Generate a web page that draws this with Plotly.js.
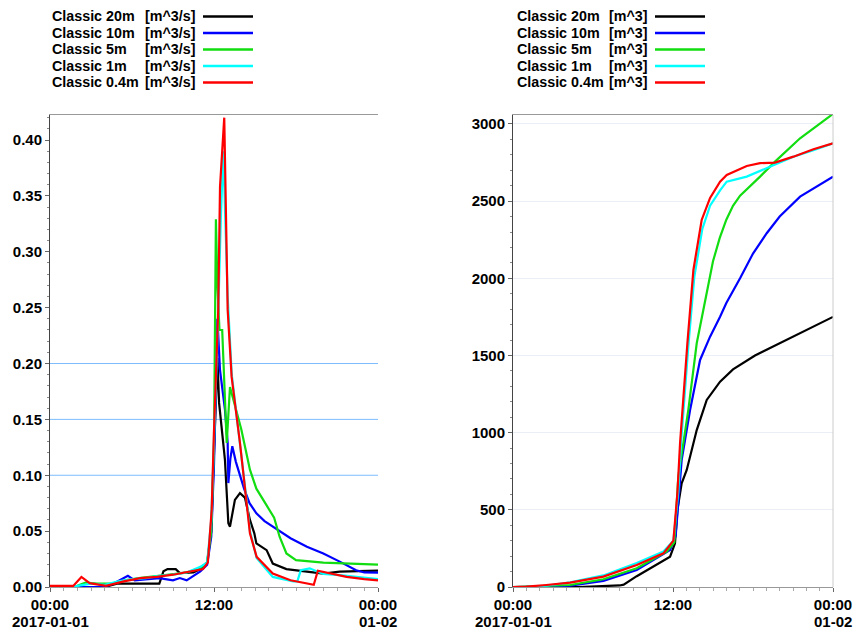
<!DOCTYPE html>
<html>
<head>
<meta charset="utf-8">
<script src="https://cdn.plot.ly/plotly-3.0.1.min.js"></script>
<style>
html,body{margin:0;padding:0;background:#fff;}
#chart{width:857px;height:633px;}
</style>
</head>
<body>
<div id="chart"></div>
<script>
// ---------------- Data (hours since 2017-01-01 00:00) ----------------
// Left: discharge [m^3/s]
const tQ20 = [0,4,4.9,8.0,8.3,8.6,9.2,9.5,10.5,11.0,11.5,11.8,12.0,12.15,12.25,12.37,12.56,12.8,13.05,13.17,13.53,13.9,14.26,14.63,14.95,15.1,15.85,16.3,17.3,18.8,20.0,21.2,22.5,24];
const q20  = [0,0,0.003,0.003,0.014,0.016,0.016,0.0125,0.013,0.016,0.022,0.05,0.12,0.18,0.205,0.165,0.144,0.114,0.057,0.054,0.078,0.084,0.080,0.060,0.048,0.039,0.033,0.021,0.016,0.0137,0.012,0.0137,0.014,0.0146];

const tQ10 = [0,4,4.8,5.7,6.2,7,8,9,9.5,10,10.5,11,11.5,11.8,12.0,12.15,12.25,12.44,12.8,13.0,13.05,13.2,13.34,13.6,13.9,14.2,14.6,15.1,15.7,16.3,17.6,18.8,20.0,21.2,22.4,23.0,24];
const q10  = [0,0,0.004,0.01,0.006,0.007,0.008,0.006,0.008,0.006,0.01,0.014,0.02,0.045,0.11,0.2,0.24,0.194,0.159,0.129,0.093,0.115,0.126,0.112,0.099,0.088,0.075,0.066,0.059,0.054,0.0436,0.036,0.030,0.0227,0.015,0.013,0.0128];

const tQ5 = [0,2,2.6,3.5,4.5,5.5,6.5,8,9,10,11,11.5,11.8,12.0,12.05,12.14,12.25,12.4,12.6,12.93,13.17,13.48,14.0,14.63,15.1,15.85,16.4,16.8,17.3,18.0,20.0,22,24];
const q5  = [0,0.001,0.004,0.003,0.003,0.006,0.008,0.01,0.012,0.013,0.017,0.022,0.05,0.13,0.2,0.329,0.27,0.23,0.23,0.129,0.179,0.165,0.141,0.105,0.088,0.073,0.062,0.045,0.030,0.024,0.0218,0.021,0.020];

const tQ1 = [0,2,3,4,5,6,7,8,9,10,11,11.5,11.8,12.0,12.3,12.5,12.68,12.8,13.0,13.3,13.9,14.46,14.63,15.12,16.3,17.0,17.8,18.1,18.35,19.0,20.0,21.2,22.5,24];
const q1  = [0,0.001,0.003,0.002,0.005,0.007,0.008,0.01,0.011,0.013,0.018,0.022,0.06,0.13,0.24,0.33,0.39,0.34,0.26,0.19,0.13,0.07,0.05,0.026,0.009,0.007,0.005,0.005,0.015,0.0167,0.0117,0.0107,0.009,0.007];

const tQ04 = [0,1.7,2.3,2.9,4.1,5.4,6.6,7.8,9.0,10.24,11.2,11.55,11.83,12.0,12.31,12.44,12.75,13.0,13.29,13.9,14.46,14.63,15.12,16.3,17.6,19.3,19.6,20.5,21.7,23.0,24];
const q04  = [0.001,0.001,0.009,0.0035,0.001,0.005,0.008,0.009,0.011,0.0137,0.016,0.022,0.069,0.14,0.248,0.358,0.42,0.248,0.188,0.129,0.069,0.048,0.027,0.012,0.006,0.002,0.0146,0.012,0.009,0.007,0.006];

// Right: cumulative volume [m^3]
const tV20 = [0,4.9,8.0,8.3,9.28,10.53,11.78,12.15,12.33,12.65,13.03,13.78,14.53,15.53,16.5,18.15,20.0,21.5,23,24];
const v20  = [0,0,10,15,70,131,196,283,499,672,758,1017,1212,1330,1410,1500,1580,1640,1710,1750];

const tV10 = [0,4.3,6.78,9.28,11.78,12.2,12.65,13.28,14.03,14.78,15.53,16.0,17.03,18.0,19.03,20.0,21.53,22.5,23.0,24];
const v10  = [0,8,40,110,240,330,823,1147,1471,1622,1751,1840,2000,2160,2292,2400,2529,2580,2610,2659];

const tV5 = [0,2.5,4.28,6.78,9.28,11.53,12.1,12.4,13.15,13.78,14.5,15.0,15.5,16.0,16.5,17.03,18.53,19.65,21.53,24];
const v5  = [0,5,13,50,121,229,290,715,1147,1579,1900,2110,2260,2380,2470,2535,2659,2756,2907,3065];

const tV1 = [0,1,2.5,4.28,6.78,9.28,11.28,12.03,12.4,12.6,13.15,13.6,14.2,14.78,15.53,16.03,17.53,19.03,21.03,22.53,24];
const v1  = [0,1,8,30,75,155,230,300,620,930,1560,2010,2320,2470,2570,2626,2659,2713,2788,2830,2875];

const tV04 = [0,1,2.5,4.28,6.78,9.28,11.28,12.03,12.33,12.53,13.08,13.53,14.15,14.78,15.53,16.03,17.53,18.53,19.65,21.03,22.53,24];
const v04  = [0,2,13,28,67,143,218,300,607,933,1581,2054,2378,2521,2626,2670,2728,2746,2750,2788,2836,2875];

// Labels
const seriesNames = ['Classic 20m','Classic 10m','Classic 5m','Classic 1m','Classic 0.4m'];
const seriesColors = ['#000000','#0000ff','#11dd11','#00ffff','#ff0000'];
const unitLeft = '[m^3/s]';
const unitRight = '[m^3]';
const xTickVals = [0,12,24];
const xTickText = ['00:00','12:00','00:00'];
const xDateVals = [0,24];
const xDateText = ['2017-01-01','01-02'];
const leftGridVals = [0.10,0.15,0.20];

// ---------------- Layout geometry ----------------
const W = 857, H = 633;
const px = v => v / W;
const py = v => 1 - v / H;
const yDom = [py(587), py(115)];

const leftT = [tQ20,tQ10,tQ5,tQ1,tQ04];
const leftV = [q20,q10,q5,q1,q04];
const rightT = [tV20,tV10,tV5,tV1,tV04];
const rightV = [v20,v10,v5,v1,v04];

const traces = [];
for (let i = 0; i < 5; i++) {
  traces.push({x: leftT[i], y: leftV[i], xaxis:'x', yaxis:'y', type:'scatter', mode:'lines',
    line:{color:seriesColors[i], width:2.2}, name: seriesNames[i] + ' ' + unitLeft, showlegend:false, hoverinfo:'skip'});
}
for (let i = 0; i < 5; i++) {
  traces.push({x: rightT[i], y: rightV[i], xaxis:'x2', yaxis:'y2', type:'scatter', mode:'lines',
    line:{color:seriesColors[i], width:2.2}, name: seriesNames[i] + ' ' + unitRight, showlegend:false, hoverinfo:'skip'});
}

const fontFam = '"Liberation Sans", Arial, sans-serif';
const tickFont = {family: fontFam, size: 15, color:'#000', weight:'bold'};

function xAxis(d0, d1, anchor) {
  return {domain:[d0,d1], range:[0,24], anchor:anchor, tickvals:xTickVals, ticktext:xTickText,
    ticks:'outside', ticklen:4, tickcolor:'#666', tickfont:tickFont,
    showline:true, linecolor:'#999', linewidth:1, mirror:true, showgrid:false, zeroline:false,
    minor:{dtick:1, ticks:'outside', ticklen:3, tickcolor:'#aaa', showgrid:false}, fixedrange:true};
}

const annotations = [];
const shapes = [];
const rowsY = [16.5, 33, 49.5, 66, 82.5];
const legFont = {family:fontFam, size:14.3, color:'#000', weight:'bold'};
function addLegend(nameX, unitX, lineX0, lineX1, unit) {
  for (let i = 0; i < 5; i++) {
    annotations.push({xref:'paper', yref:'paper', x:px(nameX), y:py(rowsY[i]), xanchor:'left', yanchor:'middle',
      text:seriesNames[i], showarrow:false, font:legFont});
    annotations.push({xref:'paper', yref:'paper', x:px(unitX), y:py(rowsY[i]), xanchor:'left', yanchor:'middle',
      text:unit, showarrow:false, font:legFont});
    shapes.push({type:'line', xref:'paper', yref:'paper', x0:px(lineX0), x1:px(lineX1), y0:py(rowsY[i]), y1:py(rowsY[i]),
      line:{color:seriesColors[i], width:2.5}});
  }
}
addLegend(50, 143, 203, 253, unitLeft);
addLegend(515, 607, 655, 705, unitRight);

// second line of the date tick labels
['x','x2'].forEach(ax => {
  xDateVals.forEach((v, k) => annotations.push({xref:ax, yref:'paper', x:v, y:py(621), xanchor:'center', yanchor:'middle',
    text:xDateText[k], showarrow:false, font:tickFont}));
});

leftGridVals.forEach(v => shapes.push({type:'line', xref:'x domain', yref:'y', x0:0, x1:1, y0:v, y1:v,
  layer:'below', line:{color:'#7dbcff', width:1}}));
shapes.push({type:'line', xref:'x2 domain', yref:'y2 domain', x0:1, x1:1, y0:0, y1:1, line:{color:'#cccccc', width:1}});

const layout = {
  width: W, height: H,
  margin:{l:0, r:0, t:0, b:0},
  paper_bgcolor:'#fff', plot_bgcolor:'#fff',
  showlegend:false,
  font:{family:fontFam, color:'#000'},
  xaxis: xAxis(px(50), px(378), 'y'),
  xaxis2: xAxis(px(513), px(833), 'y2'),
  yaxis: {domain:yDom, range:[0,0.4224], anchor:'x', dtick:0.05, tickformat:'.2f',
    ticks:'outside', ticklen:4, tickcolor:'#666', tickfont:tickFont,
    showline:true, linecolor:'#444', linewidth:1, showgrid:false, zeroline:false,
    minor:{dtick:0.01, ticks:'outside', ticklen:2, tickcolor:'#888', showgrid:false}, fixedrange:true},
  yaxis2: {domain:yDom, range:[0,3058], anchor:'x2', dtick:500, tickformat:'d',
    ticks:'outside', ticklen:4, tickcolor:'#666', tickfont:tickFont,
    showline:true, linecolor:'#444', linewidth:1, showgrid:true, gridcolor:'#eaeff5', gridwidth:1, zeroline:false,
    minor:{dtick:100, ticks:'outside', ticklen:2, tickcolor:'#888', showgrid:false}, fixedrange:true},
  annotations: annotations,
  shapes: shapes
};

Plotly.newPlot('chart', traces, layout, {staticPlot:true, displayModeBar:false});
</script>
</body>
</html>
